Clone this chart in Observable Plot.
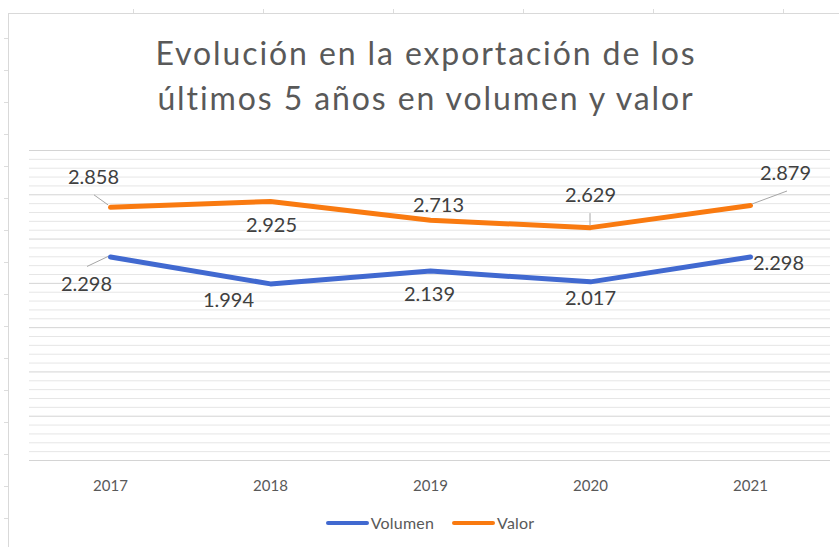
<!DOCTYPE html>
<html>
<head>
<meta charset="utf-8">
<script src="https://cdn.jsdelivr.net/npm/d3@7"></script>
<script src="https://cdn.jsdelivr.net/npm/@observablehq/plot@0.6"></script>
<style>
  html, body { margin: 0; padding: 0; background: #fff; }
  #wrap { position: relative; width: 839px; height: 547px; overflow: hidden; font-family: Lato, "Open Sans", sans-serif; background: #fff; }
  #frame { position: absolute; left: 8px; top: 13px; right: -2px; bottom: -2px; border-left: 1px solid #d9d9d9; border-top: 1px solid #d9d9d9; }
  .tk { position: absolute; background: #dcdcdc; }
  #title { position: absolute; left: 0; width: 852px; top: 30px; text-align: center; font-size: 32px; line-height: 45px; letter-spacing: 1.9px; color: #595959; }
  #chart { position: absolute; left: 0; top: 120px; }
  #legend { position: absolute; top: 513px; left: 0; width: 860px; display: flex; justify-content: center; gap: 18px; font-size: 16px; letter-spacing: 0.2px; color: #595959; }
  .item { display: flex; align-items: center; }
  .sw { width: 43px; height: 4px; border-radius: 2px; margin-right: 2px; }
</style>
</head>
<body>
<div id="wrap">
  <div id="frame"></div>
  <div id="title">Evolución en la exportación de los<br>últimos 5 años en volumen y valor</div>
  <div id="chart"></div>
  <div id="legend"></div>
</div>
<script>
// ---- data ----
const years = ["2017", "2018", "2019", "2020", "2021"];
const volumen = [2.298, 1.994, 2.139, 2.017, 2.298];
const valor = [2.858, 2.925, 2.713, 2.629, 2.879];
const seriesNames = ["Volumen", "Valor"];
const seriesColors = ["#4169D0", "#F97A10"];

// ---- label layout (pixel offsets from each point) ----
const volumenLabelOffsets = [[-24, 28], [-42, 17], [-1, 24], [0, 17], [28, 7]];
const valorLabelOffsets = [[-17, -30], [1, 24], [8, -15], [0, -32], [35, -32]];
// leader lines: [series, yearIndex, x1, y1, x2, y2] offsets in px
const leaders = [
  ["Valor", 0, -16, -12, -2, -2],
  ["Volumen", 0, -23, 10, -2, 0],
  ["Valor", 3, 0, -14, 0, -2],
  ["Valor", 4, 2, -1, 37, -14]
];

// spreadsheet cell grid peeking around the chart frame (decoration)
const wrap = document.getElementById("wrap");
[133, 263, 393, 523, 653, 783].forEach(x => {
  const d = document.createElement("div");
  d.className = "tk"; d.style.left = x + "px"; d.style.top = "9px"; d.style.width = "1px"; d.style.height = "4px";
  wrap.appendChild(d);
});
d3.range(38, 547, 32).forEach(y => {
  const d = document.createElement("div");
  d.className = "tk"; d.style.left = "4px"; d.style.top = y + "px"; d.style.width = "4px"; d.style.height = "1px";
  wrap.appendChild(d);
});

const fmt = v => v.toFixed(3);
const rows = [];
seriesNames.forEach((s, si) => {
  const vals = si === 0 ? volumen : valor;
  years.forEach((y, i) => rows.push({series: s, year: y, value: vals[i], idx: i}));
});

const minorTicks = d3.range(0, 3.5001, 0.1).map(v => +v.toFixed(1)).filter(v => Math.round(v * 10) % 5 !== 0);
const majorTicks = d3.range(0, 3.5001, 0.5);

const labelMarks = [];
rows.forEach(r => {
  const off = (r.series === "Volumen" ? volumenLabelOffsets : valorLabelOffsets)[r.idx];
  labelMarks.push(Plot.text([r], {
    x: "year", y: "value", text: d => fmt(d.value),
    dx: off[0], dy: off[1], fontSize: 20, fill: "#404040",
    textAnchor: "middle", lineAnchor: "middle"
  }));
});

const leaderMark = (index, scales, values, dimensions) => {
  const g = d3.create("svg:g");
  leaders.forEach(([s, i, x1, y1, x2, y2]) => {
    const v = (s === "Volumen" ? volumen : valor)[i];
    const px = scales.x(years[i]);
    const py = scales.y(v);
    g.append("line")
      .attr("x1", px + x1).attr("y1", py + y1)
      .attr("x2", px + x2).attr("y2", py + y2)
      .attr("stroke", "#a6a6a6").attr("stroke-width", 1);
  });
  return g.node();
};

const chart = Plot.plot({
  width: 839,
  height: 380,
  marginTop: 30,
  marginBottom: 40,
  marginLeft: 29,
  marginRight: 9,
  style: {background: "transparent", color: "#595959", fontFamily: "Lato, 'Open Sans', sans-serif"},
  x: {type: "point", domain: years, padding: 0.5, axis: null},
  y: {domain: [0, 3.5], axis: null},
  color: {domain: seriesNames, range: seriesColors},
  marks: [
    Plot.ruleY(minorTicks, {stroke: "#e6e6e6", strokeWidth: 1}),
    Plot.ruleY(majorTicks, {stroke: "#d4d4d4", strokeWidth: 1}),
    Plot.axisX({tickSize: 0, tickPadding: 20, fontSize: 15, fill: "#595959", label: null}),
    Plot.line(rows, {x: "year", y: "value", z: "series", stroke: "series", strokeWidth: 5, strokeLinejoin: "round", strokeLinecap: "round"}),
    leaderMark,
    ...labelMarks
  ]
});
document.getElementById("chart").appendChild(chart);

const legend = document.getElementById("legend");
seriesNames.forEach((s, i) => {
  const item = document.createElement("div");
  item.className = "item";
  const sw = document.createElement("span");
  sw.className = "sw";
  sw.style.background = seriesColors[i];
  const t = document.createElement("span");
  t.textContent = s;
  item.appendChild(sw);
  item.appendChild(t);
  legend.appendChild(item);
});
</script>
</body>
</html>
